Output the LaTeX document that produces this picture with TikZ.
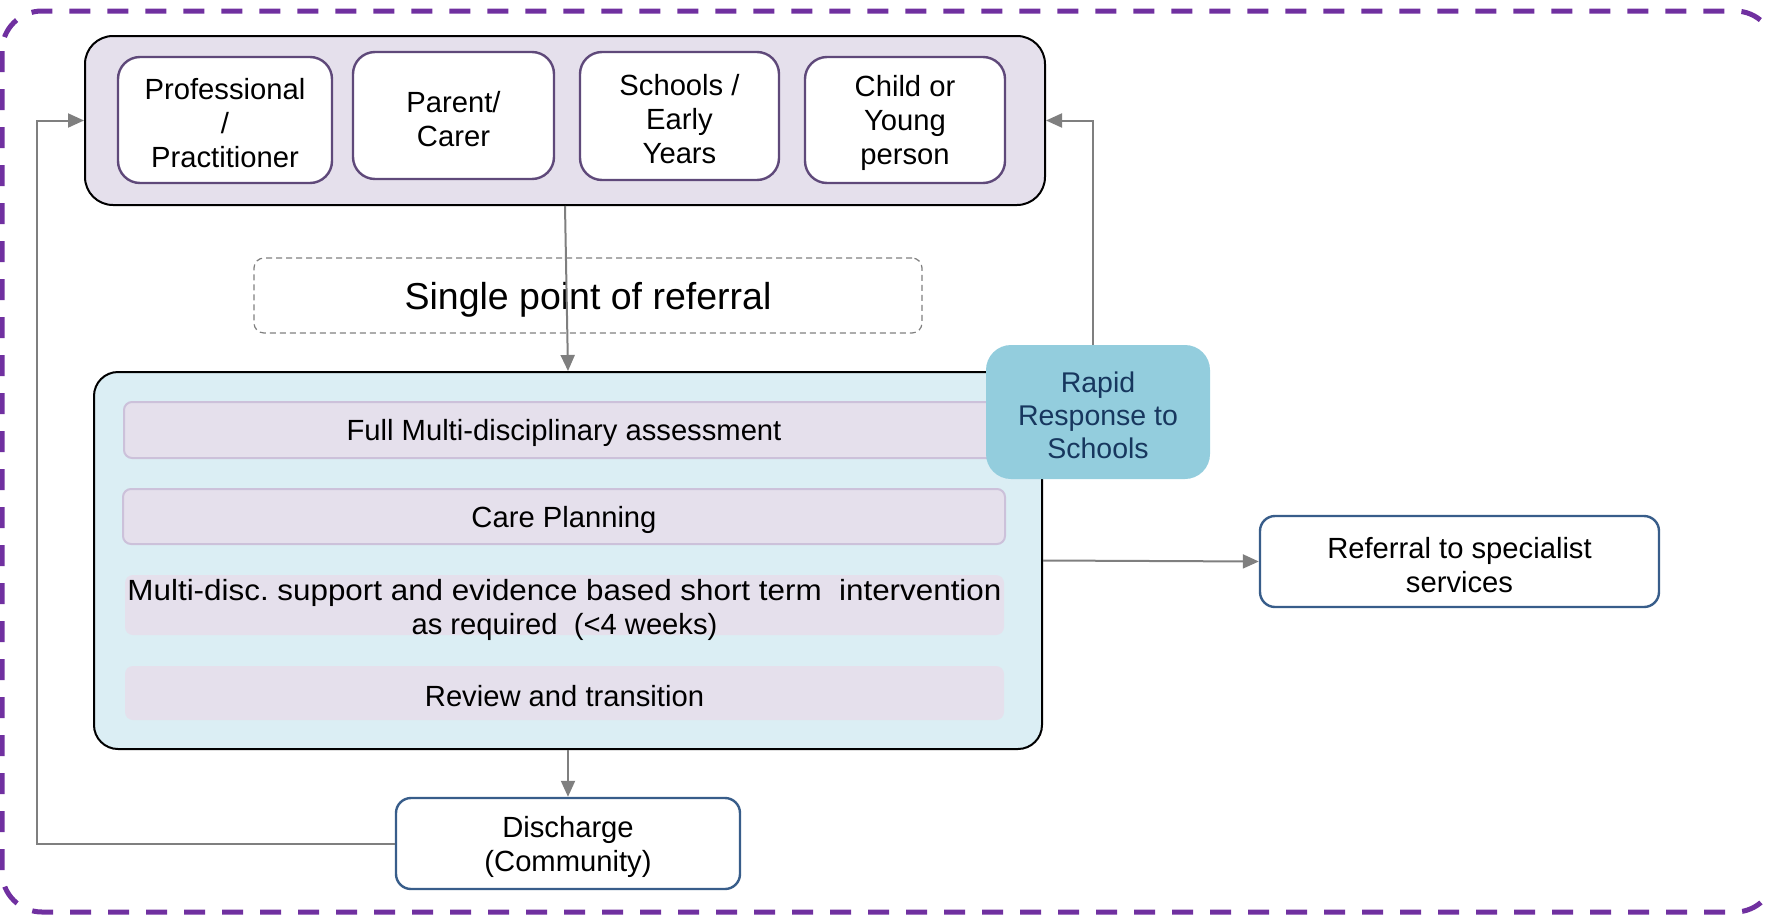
\documentclass[tikz,border=0pt]{standalone}
\usepackage{fontspec}
\setmainfont{Liberation Sans}
\usetikzlibrary{arrows.meta,calc}
\definecolor{outerpurple}{HTML}{7030A0}
\definecolor{lilac}{HTML}{E5E0EC}
\definecolor{boxpurple}{HTML}{5F497A}
\definecolor{paleblue}{HTML}{DBEEF4}
\definecolor{rowedge}{HTML}{CCC1DA}
\definecolor{rapidfill}{HTML}{93CDDD}
\definecolor{navy}{HTML}{17375E}
\definecolor{steel}{HTML}{385D8A}
\definecolor{conngray}{HTML}{7F7F7F}
\tikzset{
  lbl/.style={font=\fontsize{14.6}{17}\selectfont, align=center, inner sep=0pt, yshift=-1.7pt},
  plain/.style={inner sep=0pt},
  srcbox/.style={plain, draw=boxpurple, line width=1.2pt, fill=white, rounded corners=11pt},
  rowbox/.style={plain, fill=lilac, rounded corners=4pt},
  outbox/.style={plain, draw=steel, line width=1.2pt, fill=white, rounded corners=7.5pt},
  conn/.style={draw=conngray, line width=1pt, -{Triangle[length=8pt,width=7pt]}}
}
\frenchspacing
\begin{document}
\begin{tikzpicture}[x=0.5pt,y=-0.5pt]
\useasboundingbox (0,0) rectangle (1768,916);
\clip (0,0) rectangle (1768,916);
% outer dashed frame
\draw[outerpurple, line width=2.5pt, dash pattern=on 10.5pt off 8.5pt, rounded corners=20pt]
  (2,11) rectangle (1775,912);
% source container
\node[plain, draw=black, line width=1pt, fill=lilac, rounded corners=14pt,
      minimum width=480pt, minimum height=84.5pt] (src) at (565,120.5) {};
\node[srcbox, minimum width=107pt, minimum height=63pt,
      label={[lbl]center:{Professional\\/\\Practitioner}}] (prof) at (225,120) {};
\node[srcbox, minimum width=100.5pt, minimum height=63.5pt,
      label={[lbl]center:{Parent/\\Carer}}] (parent) at (453.5,115.5) {};
\node[srcbox, minimum width=99.5pt, minimum height=64pt,
      label={[lbl]center:{Schools /\\Early\\Years}}] (schools) at (679.5,116) {};
\node[srcbox, minimum width=100pt, minimum height=63pt,
      label={[lbl]center:{Child or\\Young\\person}}] (child) at (905,120) {};
% single point of referral
\node[plain, draw=conngray, line width=0.6pt, dash pattern=on 3pt off 2pt, rounded corners=5pt,
      minimum width=334pt, minimum height=37.5pt,
      label={[lbl, font=\fontsize{18.75}{22}\selectfont, yshift=-0.5pt]center:{Single point of referral}}] (spr) at (588,295.5) {};
% main container
\node[plain, draw=black, line width=1pt, fill=paleblue, rounded corners=12pt,
      minimum width=474pt, minimum height=188.5pt] (main) at (568,560.5) {};
\draw[conn] (src.south) -- (main.north);
\node[rowbox, draw=rowedge, line width=1pt, minimum width=440pt, minimum height=28pt,
      label={[lbl]center:{Full Multi-disciplinary assessment}}] (row1) at (564,430) {};
\node[rowbox, draw=rowedge, line width=1pt, minimum width=441pt, minimum height=27.5pt,
      label={[lbl]center:{Care Planning}}] (row2) at (564,516.5) {};
\node[rowbox, minimum width=439.5pt, minimum height=30pt,
      label={[lbl, yshift=-1pt]center:{\resizebox{437pt}{\height}{Multi-disc. support and evidence based short term\ \ intervention}\\as required\ \ (<4 weeks)}}] (row3) at (564.5,605) {};
\node[rowbox, minimum width=439.5pt, minimum height=27pt,
      label={[lbl]center:{Review and transition}}] (row4) at (564.5,693) {};
% rapid response
\node[plain, fill=rapidfill, rounded corners=12.5pt, minimum width=112pt, minimum height=67pt,
      label={[lbl, text=navy, font=\fontsize{14.25}{16.4}\selectfont]center:{Rapid\\Response to\\Schools}}] (rapid) at (1098,412) {};
\draw[conn] ([xshift=-2.5pt]rapid.north) |- (src.east);
% referral to specialist services
\node[outbox, minimum width=199.5pt, minimum height=45.5pt,
      label={[lbl]center:{Referral to specialist\\services}}] (spec) at (1459.5,561.5) {};
\draw[conn] (main.east) -- (spec.west);
% discharge
\node[outbox, minimum width=172pt, minimum height=45.5pt,
      label={[lbl]center:{Discharge\\(Community)}}] (dis) at (568,843.5) {};
\draw[conn] (main.south) -- (dis.north);
\coordinate (loop) at (37,843.5);
\draw[conn] (dis.west) -- (loop) |- (src.west);
\end{tikzpicture}
\end{document}
